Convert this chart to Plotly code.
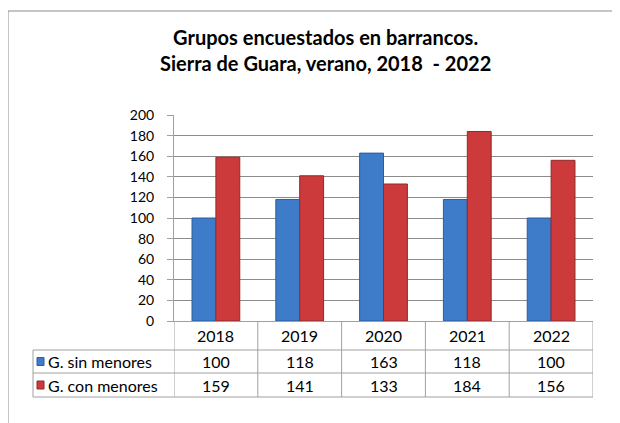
import plotly.graph_objects as go

years = ["2018", "2019", "2020", "2021", "2022"]
series_names = ["G. sin menores", "G. con menores"]
sin_menores = [100, 118, 163, 118, 100]
con_menores = [159, 141, 133, 184, 156]
y_ticks = [0, 20, 40, 60, 80, 100, 120, 140, 160, 180, 200]
title_text = "<b>Grupos encuestados en barrancos.<br>Sierra de Guara, verano, 2018  - 2022</b>"

OFF = 8  # page body margin offset
W, H = 620 - OFF, 423 - OFF
# plot area in page pixels: x 174..593, y 115..321
L = 174 - OFF
T = 115 - OFF
R = W - (593 - OFF)
B = H - (321 - OFF)
pw, ph = W - L - R, H - T - B

def px(xpage):
    return (xpage - OFF - L) / pw

def py(ypage):
    return (H - B - (ypage - OFF)) / ph

FONT = "Lato"
GRID = "#8c8c8c"
TBL = "#a0a0a0"
BLUE = "#3e7bc8"
RED = "#cc3a3b"

fig = go.Figure()
fig.add_trace(go.Bar(x=years, y=sin_menores, name=series_names[0],
                     marker=dict(color=BLUE, line=dict(color="#2c5d9c", width=1))))
fig.add_trace(go.Bar(x=years, y=con_menores, name=series_names[1],
                     marker=dict(color=RED, line=dict(color="#8f2a2b", width=1))))

shapes = []
# outer chart frame (left & top visible)
shapes.append(dict(type="line", xref="paper", yref="paper", x0=px(8), x1=px(640),
                   y0=py(11), y1=py(11), line=dict(color=GRID, width=1)))
shapes.append(dict(type="line", xref="paper", yref="paper", x0=px(8), x1=px(8),
                   y0=py(11), y1=py(440), line=dict(color=GRID, width=1)))

row_bot = 397
# category column boundaries through the table
for i in range(len(years) + 1):
    shapes.append(dict(type="line", xref="x", yref="paper", x0=i - 0.5, x1=i - 0.5,
                       y0=py(321), y1=py(row_bot), line=dict(color=TBL, width=1)))
# legend column left edge
shapes.append(dict(type="line", xref="paper", yref="paper", x0=px(33), x1=px(33),
                   y0=py(350), y1=py(row_bot), line=dict(color=TBL, width=1)))
# horizontal table lines
for yl in [350, 373, row_bot]:
    shapes.append(dict(type="line", xref="paper", yref="paper", x0=px(33), x1=1,
                       y0=py(yl), y1=py(yl), line=dict(color=TBL, width=1)))
# legend keys
for (yc, col, edge) in [((350 + 373) / 2, BLUE, "#2c5d9c"), ((373 + row_bot) / 2, RED, "#8f2a2b")]:
    shapes.append(dict(type="rect", xref="paper", yref="paper", x0=px(37), x1=px(44),
                       y0=py(yc + 4), y1=py(yc - 4), fillcolor=col,
                       line=dict(color=edge, width=1)))

annotations = []
tfont = dict(family=FONT, size=16, color="#000000")
for i, yr in enumerate(years):
    annotations.append(dict(x=i, xref="x", y=py((321 + 350) / 2), yref="paper",
                            text=yr, showarrow=False, font=tfont, yanchor="middle"))
    annotations.append(dict(x=i, xref="x", y=py((350 + 373) / 2), yref="paper",
                            text=str(sin_menores[i]), showarrow=False, font=tfont, yanchor="middle"))
    annotations.append(dict(x=i, xref="x", y=py((373 + row_bot) / 2), yref="paper",
                            text=str(con_menores[i]), showarrow=False, font=tfont, yanchor="middle"))
annotations.append(dict(x=px(46), xref="paper", y=py((350 + 373) / 2), yref="paper",
                        text=series_names[0], showarrow=False, font=tfont,
                        xanchor="left", yanchor="middle"))
annotations.append(dict(x=px(46), xref="paper", y=py((373 + row_bot) / 2), yref="paper",
                        text=series_names[1], showarrow=False, font=tfont,
                        xanchor="left", yanchor="middle"))
# chart title
annotations.append(dict(x=px(325), xref="paper", y=py(50), yref="paper",
                        text=title_text, showarrow=False, xanchor="center", yanchor="middle",
                        font=dict(family=FONT, size=20, color="#000000")))

fig.update_layout(
    width=W, height=H,
    margin=dict(l=L, r=R, t=T, b=B, pad=0),
    paper_bgcolor="white", plot_bgcolor="white",
    showlegend=False,
    barmode="group", bargap=0.43, bargroupgap=0,
    xaxis=dict(type="category", showticklabels=False, ticks="", showgrid=False,
               showline=True, linecolor=TBL, linewidth=1, range=[-0.5, 4.5]),
    yaxis=dict(range=[0, 200], tickvals=y_ticks, showgrid=True, gridcolor=GRID,
               gridwidth=1, showline=True, linecolor=TBL, linewidth=1,
               ticks="outside", ticklen=6, tickcolor=TBL, zeroline=False,
               ticklabelstandoff=10,
               tickfont=dict(family=FONT, size=14, color="#000000")),
    shapes=shapes, annotations=annotations,
)

fig.write_html("out.html")
